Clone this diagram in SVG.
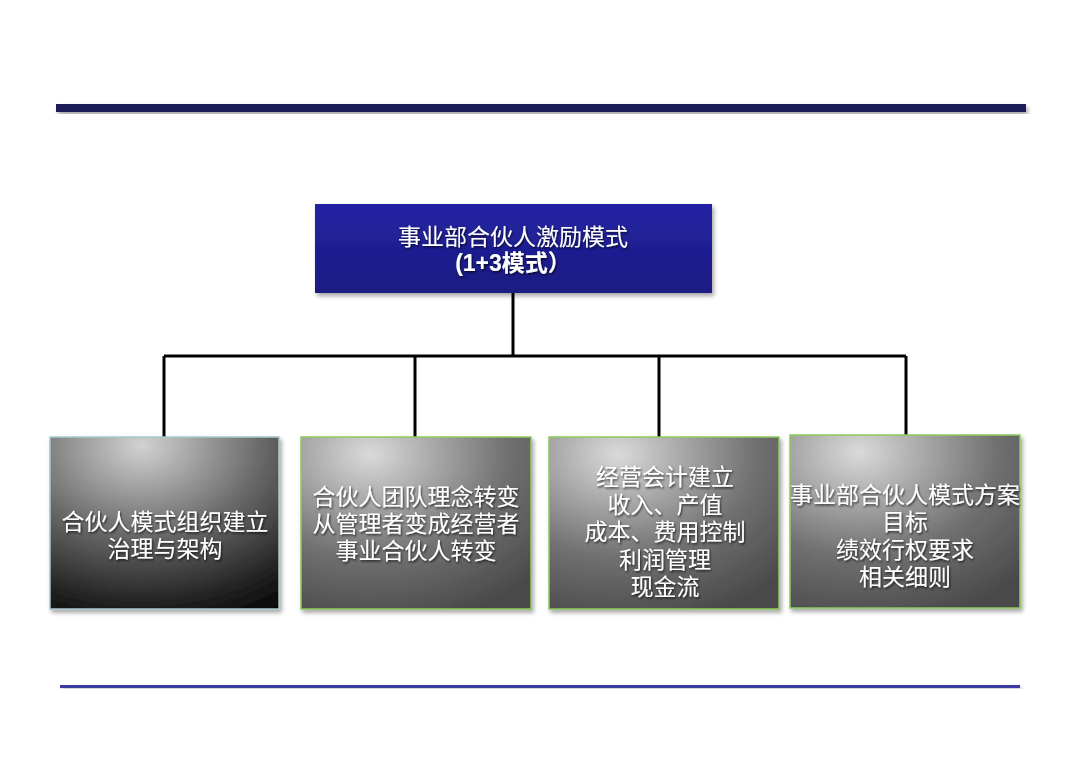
<svg xmlns="http://www.w3.org/2000/svg" width="1080" height="766" viewBox="0 0 1080 766">
<style>
.t{font-family:"Noto Sans CJK SC","Liberation Sans",sans-serif;font-size:23px;fill:#ffffff;text-anchor:middle;}
.b{font-family:"Liberation Sans","Noto Sans CJK SC",sans-serif;font-weight:bold;}
.c{stroke:#000;stroke-width:3;fill:none;}
</style>
<defs>
<filter id="sh" x="-10%" y="-10%" width="130%" height="130%">
<feDropShadow dx="2" dy="3" stdDeviation="2" flood-color="#000" flood-opacity="0.35"/>
</filter>
<filter id="ts" x="-10%" y="-30%" width="120%" height="160%">
<feDropShadow dx="1" dy="1.5" stdDeviation="1" flood-color="#000" flood-opacity="0.7"/>
</filter>
<linearGradient id="blue" x1="0" y1="0" x2="0" y2="1">
<stop offset="0" stop-color="#2424a4"/>
<stop offset="1" stop-color="#1a1a82"/>
</linearGradient>
<radialGradient id="g1" cx="0.4" cy="0.05" r="1.15" fx="0.4" fy="0.05">
<stop offset="0" stop-color="#d2d2d2"/>
<stop offset="0.45" stop-color="#6a6a6a"/>
<stop offset="0.8" stop-color="#222222"/>
<stop offset="1" stop-color="#000000"/>
</radialGradient>
<radialGradient id="g2" cx="0.3" cy="0.1" r="1.0" fx="0.3" fy="0.1">
<stop offset="0" stop-color="#dadada"/>
<stop offset="0.6" stop-color="#707070"/>
<stop offset="1" stop-color="#4a4a4a"/>
</radialGradient>
</defs>
<rect width="1080" height="766" fill="#ffffff"/>
<g id="top-bar"><rect x="56" y="104" width="970" height="8" fill="#1e1e58" filter="url(#sh)"/></g>
<g id="bottom-bar"><rect x="60" y="685" width="960" height="3" fill="#3a3aa2" filter="url(#sh)"/></g>
<g id="connectors">
<path class="c" d="M513 293 V356"/>
<path class="c" d="M164 356 H906"/>
<path class="c" d="M164 356 V437"/>
<path class="c" d="M415 356 V437"/>
<path class="c" d="M659 356 V437"/>
<path class="c" d="M906 356 V435"/>
</g>
<g id="root">
<rect x="315" y="204" width="397" height="89" fill="url(#blue)" filter="url(#sh)"/>
<g filter="url(#ts)">
<text class="t" x="513" y="245">事业部合伙人激励模式</text>
<text class="t b" x="513" y="271">(1+3模式）</text>
</g>
</g>
<g id="node1">
<rect x="50" y="437" width="229" height="172" fill="url(#g1)" stroke="#a8c8d0" stroke-width="1.5" filter="url(#sh)"/>
<g filter="url(#ts)">
<text class="t" x="165" y="530">合伙人模式组织建立</text>
<text class="t" x="165" y="557">治理与架构</text>
</g>
</g>
<g id="node2">
<rect x="301" y="437" width="230" height="172" fill="url(#g2)" stroke="#8ccc5c" stroke-width="1.5" filter="url(#sh)"/>
<g filter="url(#ts)">
<text class="t" x="416" y="505">合伙人团队理念转变</text>
<text class="t" x="416" y="532">从管理者变成经营者</text>
<text class="t" x="416" y="559">事业合伙人转变</text>
</g>
</g>
<g id="node3">
<rect x="549" y="437" width="230" height="172" fill="url(#g2)" stroke="#8ccc5c" stroke-width="1.5" filter="url(#sh)"/>
<g filter="url(#ts)">
<text class="t" x="665" y="485">经营会计建立</text>
<text class="t" x="665" y="513">收入、产值</text>
<text class="t" x="665" y="540">成本、费用控制</text>
<text class="t" x="665" y="568">利润管理</text>
<text class="t" x="665" y="595">现金流</text>
</g>
</g>
<g id="node4">
<rect x="790" y="435" width="230" height="173" fill="url(#g2)" stroke="#8ccc5c" stroke-width="1.5" filter="url(#sh)"/>
<g filter="url(#ts)">
<text class="t" x="905" y="503">事业部合伙人模式方案</text>
<text class="t" x="905" y="530">目标</text>
<text class="t" x="905" y="558">绩效行权要求</text>
<text class="t" x="905" y="585">相关细则</text>
</g>
</g>
</svg>
